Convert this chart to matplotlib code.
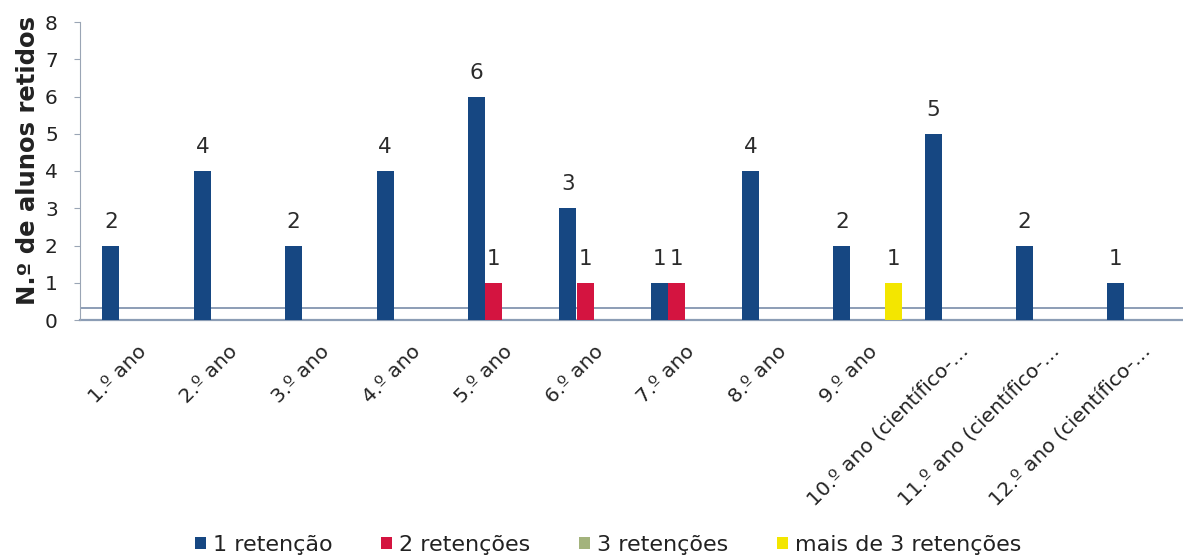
import matplotlib
matplotlib.use("Agg")
import matplotlib.pyplot as plt
import numpy as np
from matplotlib.patches import Patch

plt.rcParams['font.family'] = ['DejaVu Sans']

categories = ["1.º ano", "2.º ano", "3.º ano", "4.º ano", "5.º ano", "6.º ano",
              "7.º ano", "8.º ano", "9.º ano", "10.º ano (científico-…",
              "11.º ano (científico-…", "12.º ano (científico-…"]
series_names = ["1 retenção", "2 retenções", "3 retenções", "mais de 3 retenções"]
ret1 = [2, 4, 2, 4, 6, 3, 1, 4, 2, 5, 2, 1]
ret2 = [0, 0, 0, 0, 1, 1, 1, 0, 0, 0, 0, 0]
ret3 = [0, 0, 0, 0, 0, 0, 0, 0, 0, 0, 0, 0]
ret4 = [0, 0, 0, 0, 0, 0, 0, 0, 1, 0, 0, 0]
colors = ["#164782", "#d41440", "#a3b37c", "#f3e600"]
yticks = [0, 1, 2, 3, 4, 5, 6, 7, 8]

W, H = 1183, 557
fig = plt.figure(figsize=(W / 100, H / 100), dpi=100)
ax = fig.add_axes([80 / W, 1 - 320 / H, 1103 / W, (320 - 22) / H])

x = np.arange(len(categories))
bw = 0.19
offsets = [-1.5 * bw, -0.5 * bw, 0.5 * bw, 1.5 * bw]
txtcol = "#2b2b2b"
for vals, off, col in zip([ret1, ret2, ret3, ret4], offsets, colors):
    for xi, v in zip(x, vals):
        if v > 0:
            ax.bar(xi + off, v, width=bw * 0.98, color=col, edgecolor="none", zorder=3)
            ax.annotate(str(v), (xi + off, v), xytext=(0, 10), textcoords="offset points",
                        ha="center", va="bottom", fontsize=15.5, color=txtcol)

ax.set_xlim(-0.624, 11.45)
ax.set_ylim(0, 8)
ax.set_yticks(yticks)
ax.set_yticklabels([str(t) for t in yticks], fontsize=14.5, color="#222222")
ax.tick_params(axis="y", length=4, color="#9aa5b5", pad=12)
ax.set_xticks(x)
ax.set_xticklabels(categories, rotation=45, ha="right", va="top",
                   rotation_mode="anchor", fontsize=14.5, color="#222222")
ax.tick_params(axis="x", length=0, pad=16)

for s in ["top", "right", "bottom"]:
    ax.spines[s].set_visible(False)
ax.spines["left"].set_color("#9aa5b5")

# floor lines (pseudo-3D)
ax.axhline(0, color="#8c9db5", lw=1.6, zorder=2, clip_on=False)
ax.axhline(0.32, color="#8c9db5", lw=1.4, zorder=2)

ax.set_ylabel("N.º de alunos retidos", fontsize=17.5, fontweight="bold", color="#222222")
ax.yaxis.set_label_coords(-40 / 1103, 0.535)

handles = [Patch(facecolor=c, edgecolor="none") for c in colors]
fig.legend(handles, series_names, loc="center", bbox_to_anchor=(608 / W, 1 - 545 / H),
           ncol=4, frameon=False, fontsize=16, handlelength=0.5, handleheight=0.5,
           handletextpad=0.3, columnspacing=2.2, labelcolor="#222222")

fig.savefig("out.png", dpi=100)
